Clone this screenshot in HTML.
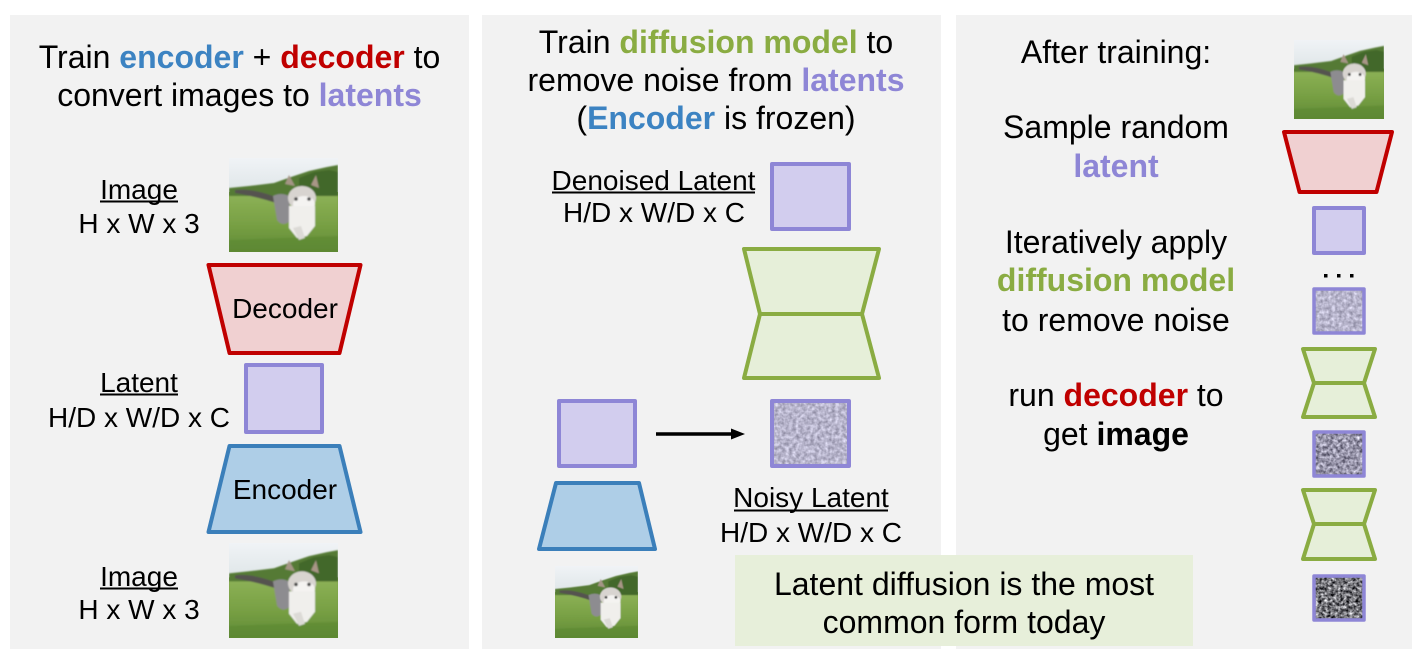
<!DOCTYPE html>
<html><head><meta charset="utf-8"><style>
html,body{margin:0;padding:0;background:#fff;}
svg{display:block;}
text{font-family:"Liberation Sans",Arial,sans-serif;}
</style></head><body>
<svg width="1412" height="650" viewBox="0 0 1412 650" xmlns="http://www.w3.org/2000/svg">
<defs>
<linearGradient id="sky" x1="0" y1="0" x2="0" y2="1"><stop offset="0" stop-color="#f0f3f6"/><stop offset="1" stop-color="#dfe6e8"/></linearGradient>
<linearGradient id="grass" x1="0" y1="0" x2="0" y2="1"><stop offset="0" stop-color="#8bb055"/><stop offset="0.5" stop-color="#78a044"/><stop offset="1" stop-color="#5f8a36"/></linearGradient>
<filter id="blur1" x="-0.1" y="-0.1" width="1.2" height="1.2"><feGaussianBlur stdDeviation="0.8"/></filter>
<symbol id="cat" viewBox="0 0 109 94" preserveAspectRatio="none">
<rect width="109" height="94" fill="url(#grass)"/>
<rect width="109" height="34" fill="url(#sky)"/>
<g filter="url(#blur1)">
<path d="M0 30 L20 28 L45 25 L62 19 L80 13 L98 9 L109 7 L109 44 L0 40Z" fill="#557a34"/>
<path d="M70 20 L85 14 L100 12 L109 14 L109 40 L70 36Z" fill="#42672a"/>
<rect y="38" width="109" height="56" fill="url(#grass)"/>
<path d="M0 82 L109 78 L109 94 L0 94Z" fill="#5a8530" opacity="0.5"/>
<path d="M6 32 Q22 30 44 38 L50 46 Q30 39 6 35Z" fill="#55524f"/>
<path d="M44 38 Q52 34 60 38 L62 62 Q54 70 48 62 Z" fill="#8d8c90"/>
<path d="M56 26 L60 17 L66 28Z" fill="#a59585"/>
<path d="M82 27 L87 17 L90 30Z" fill="#a89686"/>
<ellipse cx="73" cy="40" rx="14" ry="12" fill="#d8d4d0"/>
<ellipse cx="75" cy="46" rx="11" ry="8" fill="#f4f3f1"/>
<path d="M60 48 L86 48 L86 68 L78 78 L68 80 L60 70Z" fill="#f0efec"/>
<path d="M64 70 L70 82 L76 80 L72 68Z" fill="#dcdad6"/>
<circle cx="67" cy="41" r="1.8" fill="#444"/>
<circle cx="80" cy="41" r="1.8" fill="#444"/>
</g>
</symbol>
<filter id="nA" x="0" y="0" width="1" height="1" color-interpolation-filters="sRGB">
<feTurbulence type="fractalNoise" baseFrequency="0.28" numOctaves="2" seed="3"/>
<feColorMatrix type="matrix" values="0.5 0 0 0 0.47  0.5 0 0 0 0.46  0.5 0 0 0 0.55  0 0 0 0 1"/>
</filter>
<filter id="nB" x="0" y="0" width="1" height="1" color-interpolation-filters="sRGB">
<feTurbulence type="fractalNoise" baseFrequency="0.3" numOctaves="2" seed="7"/>
<feColorMatrix type="matrix" values="0.95 0 0 0 0.12  0.95 0 0 0 0.11  0.95 0 0 0 0.19  0 0 0 0 1"/>
</filter>
<filter id="nC" x="0" y="0" width="1" height="1" color-interpolation-filters="sRGB">
<feTurbulence type="fractalNoise" baseFrequency="0.32" numOctaves="2" seed="11"/>
<feColorMatrix type="matrix" values="1.5 0 0 0 -0.3  1.5 0 0 0 -0.3  1.5 0 0 0 -0.28  0 0 0 0 1"/>
</filter>
</defs>

<!-- panels -->
<rect x="10" y="15" width="459" height="634" fill="#f2f2f2"/>
<rect x="482" y="15" width="459" height="634" fill="#f2f2f2"/>
<rect x="956" y="15" width="456" height="634" fill="#f2f2f2"/>

<!-- ===== Panel 1 ===== -->
<text x="239.5" y="68" font-size="32" text-anchor="middle" fill="#000">Train <tspan font-weight="bold" fill="#3c83c2">encoder</tspan> + <tspan font-weight="bold" fill="#c00000">decoder</tspan> to</text>
<text x="239.5" y="106" font-size="32" text-anchor="middle" fill="#000">convert images to <tspan font-weight="bold" fill="#8e86d6">latents</tspan></text>

<text x="139" y="199" font-size="28" text-anchor="middle">Image</text>
<rect x="100" y="200.5" width="78" height="2" fill="#000"/>
<text x="139" y="233" font-size="28" text-anchor="middle">H x W x 3</text>
<use href="#cat" x="229" y="158" width="109" height="94"/>

<path d="M208.5 265 L360.5 265 L339.5 353 L229.5 353 Z" fill="#f0d0d1" stroke="#c00000" stroke-width="4" stroke-linejoin="round"/>
<text x="285" y="318" font-size="28" text-anchor="middle">Decoder</text>

<text x="139" y="392" font-size="28" text-anchor="middle">Latent</text>
<rect x="100" y="393.5" width="78" height="2" fill="#000"/>
<text x="139" y="427" font-size="28" text-anchor="middle">H/D x W/D x C</text>
<rect x="246" y="365" width="76" height="67" fill="#d2cdee" stroke="#8e86d6" stroke-width="4" stroke-linejoin="round"/>

<path d="M229.5 446 L339.5 446 L360.5 532 L208.5 532 Z" fill="#aecee7" stroke="#3b7fba" stroke-width="4" stroke-linejoin="round"/>
<text x="285" y="499" font-size="28" text-anchor="middle">Encoder</text>

<text x="139" y="586" font-size="28" text-anchor="middle">Image</text>
<rect x="100" y="587.5" width="78" height="2" fill="#000"/>
<text x="139" y="619" font-size="28" text-anchor="middle">H x W x 3</text>
<use href="#cat" x="229" y="543" width="109" height="95"/>

<!-- ===== Panel 2 ===== -->
<text x="716" y="53" font-size="32" text-anchor="middle">Train <tspan font-weight="bold" fill="#8aac42">diffusion model</tspan> to</text>
<text x="716" y="91" font-size="32" text-anchor="middle">remove noise from <tspan font-weight="bold" fill="#8e86d6">latents</tspan></text>
<text x="716" y="129" font-size="32" text-anchor="middle">(<tspan font-weight="bold" fill="#3c83c2">Encoder</tspan> is frozen)</text>

<text x="653.5" y="190" font-size="28" text-anchor="middle">Denoised Latent</text>
<rect x="552" y="191.5" width="203" height="2" fill="#000"/>
<text x="654" y="222" font-size="28" text-anchor="middle">H/D x W/D x C</text>
<rect x="772" y="164" width="77" height="65" fill="#d2cdee" stroke="#8e86d6" stroke-width="4" stroke-linejoin="round"/>

<path d="M744 249 L879 249 L862 314 L879 378 L744 378 L760 314 Z" fill="#e6efd9" stroke="#8aac42" stroke-width="4" stroke-linejoin="round"/>
<line x1="760" y1="314" x2="862" y2="314" stroke="#8aac42" stroke-width="4"/>

<rect x="559" y="401" width="76" height="65" fill="#d2cdee" stroke="#8e86d6" stroke-width="4" stroke-linejoin="round"/>
<line x1="656" y1="434" x2="734" y2="434" stroke="#000" stroke-width="3.5"/>
<polygon points="731,428.5 745,434 731,439.5" fill="#000"/>
<rect x="772" y="401" width="77" height="65" filter="url(#nA)"/>
<rect x="772" y="401" width="77" height="65" fill="none" stroke="#8e86d6" stroke-width="4" stroke-linejoin="round"/>

<path d="M556 483 L639 483 L655 549 L539 549 Z" fill="#aecee7" stroke="#3b7fba" stroke-width="4" stroke-linejoin="round"/>
<use href="#cat" x="555" y="566" width="83" height="72"/>

<text x="811" y="507" font-size="28" text-anchor="middle">Noisy Latent</text>
<rect x="734" y="509.5" width="154" height="2" fill="#000"/>
<text x="811" y="542" font-size="28" text-anchor="middle">H/D x W/D x C</text>

<!-- callout -->
<rect x="735" y="555" width="458" height="91" fill="#e7efda"/>
<text x="964" y="595" font-size="32" text-anchor="middle">Latent diffusion is the most</text>
<text x="964" y="633" font-size="32" text-anchor="middle">common form today</text>

<!-- ===== Panel 3 ===== -->
<text x="1116" y="63" font-size="32" text-anchor="middle">After training:</text>
<text x="1116" y="138" font-size="32" text-anchor="middle">Sample random</text>
<text x="1116" y="177" font-size="32" text-anchor="middle" font-weight="bold" fill="#8e86d6">latent</text>
<text x="1116" y="253" font-size="32" text-anchor="middle">Iteratively apply</text>
<text x="1116" y="291" font-size="32" text-anchor="middle" font-weight="bold" fill="#8aac42">diffusion model</text>
<text x="1116" y="331" font-size="32" text-anchor="middle">to remove noise</text>
<text x="1116" y="406" font-size="32" text-anchor="middle">run <tspan font-weight="bold" fill="#c00000">decoder</tspan> to</text>
<text x="1116" y="445" font-size="32" text-anchor="middle">get <tspan font-weight="bold">image</tspan></text>

<use href="#cat" x="1294" y="40" width="90" height="79"/>
<path d="M1284 132 L1392 132 L1376.5 192 L1299.5 192 Z" fill="#f0d0d1" stroke="#c00000" stroke-width="4" stroke-linejoin="round"/>
<rect x="1314" y="208" width="50" height="45" fill="#d2cdee" stroke="#8e86d6" stroke-width="4" stroke-linejoin="round"/>
<rect x="1324" y="274" width="3.5" height="3.5" fill="#000"/>
<rect x="1337" y="274" width="3.5" height="3.5" fill="#000"/>
<rect x="1350" y="274" width="3.5" height="3.5" fill="#000"/>

<rect x="1314" y="289" width="50" height="44" filter="url(#nA)"/>
<rect x="1314" y="289" width="50" height="44" fill="none" stroke="#8e86d6" stroke-width="3.5" stroke-linejoin="round"/>

<path d="M1303 349 L1375 349 L1364 383 L1375 417 L1303 417 L1314 383 Z" fill="#e6efd9" stroke="#8aac42" stroke-width="4" stroke-linejoin="round"/>
<line x1="1314" y1="383" x2="1364" y2="383" stroke="#8aac42" stroke-width="4"/>

<rect x="1314" y="432" width="50" height="44" filter="url(#nB)"/>
<rect x="1314" y="432" width="50" height="44" fill="none" stroke="#8e86d6" stroke-width="3.5" stroke-linejoin="round"/>

<path d="M1303 490 L1375 490 L1364 524 L1375 559 L1303 559 L1314 524 Z" fill="#e6efd9" stroke="#8aac42" stroke-width="4" stroke-linejoin="round"/>
<line x1="1314" y1="524" x2="1364" y2="524" stroke="#8aac42" stroke-width="4"/>

<rect x="1314" y="576" width="50" height="44" filter="url(#nC)"/>
<rect x="1314" y="576" width="50" height="44" fill="none" stroke="#8e86d6" stroke-width="3.5" stroke-linejoin="round"/>
</svg>
</body></html>
